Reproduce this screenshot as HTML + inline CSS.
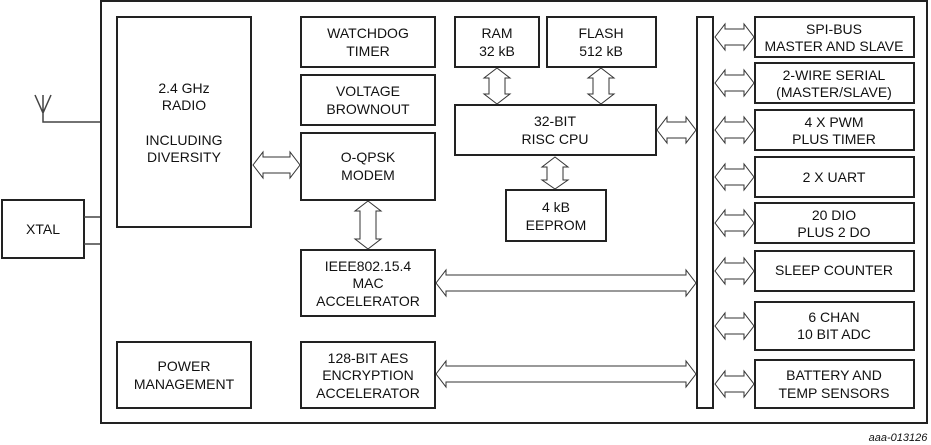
<!DOCTYPE html>
<html><head><meta charset="utf-8"><style>
html,body{margin:0;padding:0;background:#fff;}
svg{display:block;}
text{font-family:"Liberation Sans",Arial,sans-serif;font-size:14px;fill:#111;text-anchor:middle;}
.b{fill:#fff;stroke:#222;stroke-width:2;}
.a{fill:#fff;stroke:#333;stroke-width:1;}
.l{stroke:#444;stroke-width:1.5;fill:none;}
</style></head><body>
<svg width="931" height="445" viewBox="0 0 931 445" xmlns="http://www.w3.org/2000/svg">
<rect x="101" y="1" width="826" height="422" fill="#fff" stroke="#222" stroke-width="2"/>
<path class="l" d="M35 95 L43 113 L51 95 M43 95 L43 122 L100 122"/>
<rect class="b" x="2" y="200" width="82" height="58"/>
<text x="43" y="234">XTAL</text>
<path class="l" d="M84 217 H100 M84 244 H100"/>

<rect class="b" x="117" y="17" width="134" height="210"/>
<text x="184" y="93">2.4 GHz</text><text x="184" y="110">RADIO</text>
<text x="184" y="145">INCLUDING</text><text x="184" y="162">DIVERSITY</text>

<rect class="b" x="301" y="17" width="134" height="50"/>
<text x="368" y="38">WATCHDOG</text><text x="368" y="56">TIMER</text>
<rect class="b" x="301" y="75" width="134" height="50"/>
<text x="368" y="96">VOLTAGE</text><text x="368" y="114">BROWNOUT</text>
<rect class="b" x="301" y="133" width="134" height="67"/>
<text x="368" y="162">O-QPSK</text><text x="368" y="180">MODEM</text>
<rect class="b" x="301" y="250" width="134" height="66"/>
<text x="368" y="271">IEEE802.15.4</text><text x="368" y="288">MAC</text><text x="368" y="306">ACCELERATOR</text>
<rect class="b" x="301" y="342" width="134" height="66"/>
<text x="368" y="363">128-BIT AES</text><text x="368" y="380">ENCRYPTION</text><text x="368" y="398">ACCELERATOR</text>
<rect class="b" x="117" y="342" width="134" height="66"/>
<text x="184" y="371">POWER</text><text x="184" y="389">MANAGEMENT</text>

<rect class="b" x="455" y="17" width="84" height="50"/>
<text x="497" y="38">RAM</text><text x="497" y="56">32 kB</text>
<rect class="b" x="547" y="17" width="109" height="50"/>
<text x="601" y="38">FLASH</text><text x="601" y="56">512 kB</text>
<rect class="b" x="455" y="105" width="201" height="50"/>
<text x="555" y="126">32-BIT</text><text x="555" y="144">RISC CPU</text>
<rect class="b" x="506" y="190" width="100" height="51"/>
<text x="556" y="212">4 kB</text><text x="556" y="230">EEPROM</text>

<rect class="b" x="697" y="17" width="16" height="391"/>

<rect class="b" x="755" y="17" width="159" height="40"/>
<text x="834" y="34">SPI-BUS</text><text x="834" y="51">MASTER AND SLAVE</text>
<rect class="b" x="755" y="63" width="159" height="40"/>
<text x="834" y="80">2-WIRE SERIAL</text><text x="834" y="97">(MASTER/SLAVE)</text>
<rect class="b" x="755" y="110" width="159" height="40"/>
<text x="834" y="127">4 X PWM</text><text x="834" y="144">PLUS TIMER</text>
<rect class="b" x="755" y="157" width="159" height="40"/>
<text x="834" y="182">2 X UART</text>
<rect class="b" x="755" y="203" width="159" height="40"/>
<text x="834" y="220">20 DIO</text><text x="834" y="237">PLUS 2 DO</text>
<rect class="b" x="755" y="251" width="159" height="40"/>
<text x="834" y="275">SLEEP COUNTER</text>
<rect class="b" x="755" y="302" width="159" height="48"/>
<text x="834" y="322">6 CHAN</text><text x="834" y="339">10 BIT ADC</text>
<rect class="b" x="755" y="360" width="159" height="48"/>
<text x="834" y="380">BATTERY AND</text><text x="834" y="398">TEMP SENSORS</text>

<g class="a">
<polygon points="253,165 263,152 263,157 290,157 290,152 300,165 290,178 290,173 263,173 263,178"/>
<polygon points="657,130 667,117 667,122 686,122 686,117 696,130 686,143 686,138 667,138 667,143"/>
<polygon points="436,283 446,270 446,275 686,275 686,270 696,283 686,296 686,291 446,291 446,296"/>
<polygon points="436,374 446,361 446,366 686,366 686,361 696,374 686,387 686,382 446,382 446,387"/>
<polygon points="715,37 725,24 725,29 744,29 744,24 754,37 744,50 744,45 725,45 725,50"/>
<polygon points="715,83 725,70 725,75 744,75 744,70 754,83 744,96 744,91 725,91 725,96"/>
<polygon points="715,130 725,117 725,122 744,122 744,117 754,130 744,143 744,138 725,138 725,143"/>
<polygon points="715,177 725,164 725,169 744,169 744,164 754,177 744,190 744,185 725,185 725,190"/>
<polygon points="715,223 725,210 725,215 744,215 744,210 754,223 744,236 744,231 725,231 725,236"/>
<polygon points="715,271 725,258 725,263 744,263 744,258 754,271 744,284 744,279 725,279 725,284"/>
<polygon points="715,326 725,313 725,318 744,318 744,313 754,326 744,339 744,334 725,334 725,339"/>
<polygon points="715,384 725,371 725,376 744,376 744,371 754,384 744,397 744,392 725,392 725,397"/>
<polygon points="497,68 510,78 505,78 505,94 510,94 497,104 484,94 489,94 489,78 484,78"/>
<polygon points="601,68 614,78 609,78 609,94 614,94 601,104 588,94 593,94 593,78 588,78"/>
<polygon points="555,157 568,167 563,167 563,180 568,180 555,189 542,180 547,180 547,167 542,167"/>
<polygon points="368,201 381,211 376,211 376,239 381,239 368,249 355,239 360,239 360,211 355,211"/>
</g>
<text x="898" y="441" style="font-size:11px;font-style:italic;">aaa-013126</text>
</svg>
</body></html>
